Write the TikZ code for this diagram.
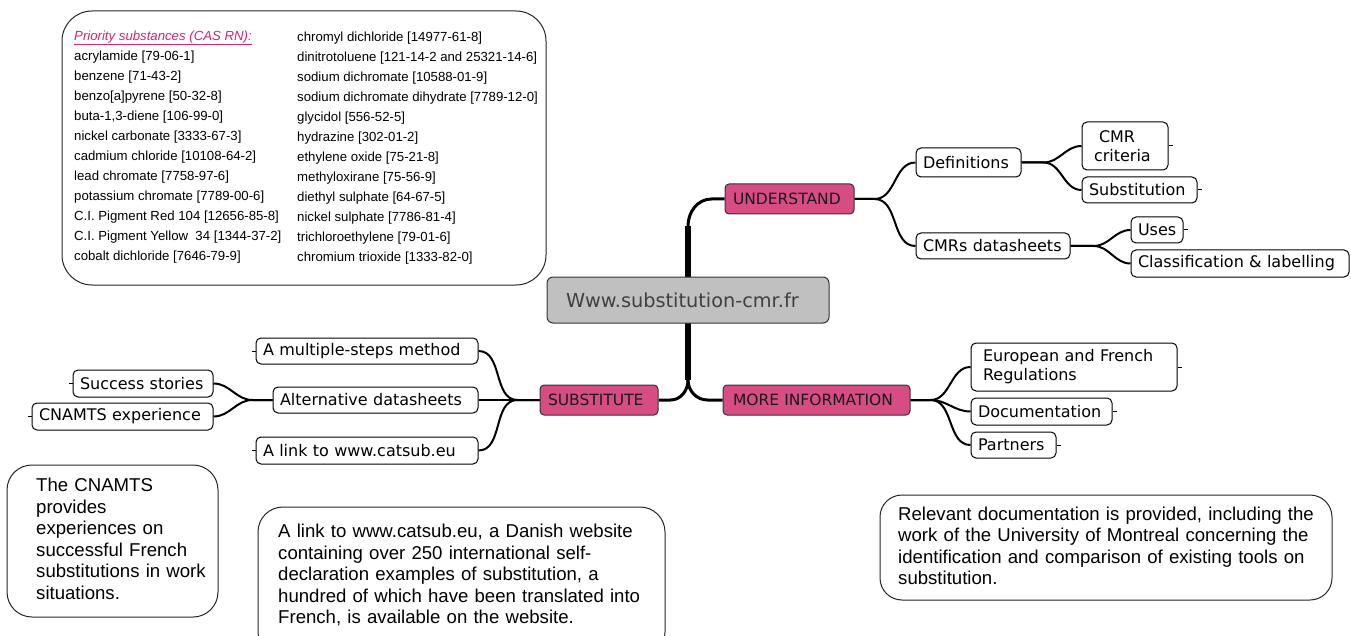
\documentclass[tikz,border=0pt]{standalone}
\usepackage{fontspec}
\setmainfont{Liberation Sans}
\newfontfamily\mmfont{DejaVu Sans}
\usetikzlibrary{backgrounds}
\definecolor{pinkbox}{RGB}{214,76,131}
\definecolor{graybox}{RGB}{192,192,192}
\definecolor{centertext}{RGB}{64,64,64}
\definecolor{titlemag}{RGB}{214,36,120}
\begin{document}
\begin{tikzpicture}[x=1pt,y=-1pt,
  leaf/.style={draw=black, line width=1pt, rounded corners=5pt, fill=white,
    font=\mmfont\fontsize{16}{19}\selectfont, inner xsep=7pt, inner ysep=0pt, align=left},
  mainbr/.style={draw=black!80, line width=1pt, rounded corners=4pt, fill=pinkbox,
    font=\mmfont\fontsize{15.5}{18}\selectfont, text=black!90, inner xsep=8pt, inner ysep=0pt, align=left},
  centerbox/.style={draw=black!80, line width=1pt, rounded corners=6pt, fill=graybox,
    font=\mmfont\fontsize{19.3}{22}\selectfont, text=centertext, inner xsep=19pt, inner ysep=0pt, align=left},
  callout/.style={draw=black!85, line width=1pt, rounded corners=25pt, fill=white},
  calltext/.style={font=\fontsize{18.6}{21.5}\selectfont, align=left, inner sep=0pt, anchor=west},
  listtext/.style={font=\fontsize{13.2}{20}\selectfont, align=left, inner sep=0pt, anchor=west},
  conn/.style={draw=black, line width=2pt},
  tick/.style={draw=black, line width=1pt}]
\useasboundingbox (0,0) rectangle (1351,636);

% priority substances box
\node[callout, rounded corners=30pt, minimum width=484pt, minimum height=274pt] (prio) at (304,148) {};
\node[listtext] (col1) at (74,147) {\textcolor{titlemag}{\underline{\textit{Priority substances (CAS RN):}}}\\
acrylamide [79-06-1]\\
benzene [71-43-2]\\
benzo[a]pyrene [50-32-8]\\
buta-1,3-diene [106-99-0]\\
nickel carbonate [3333-67-3]\\
cadmium chloride [10108-64-2]\\
lead chromate [7758-97-6]\\
potassium chromate [7789-00-6]\\
C.I. Pigment Red 104 [12656-85-8]\\
C.I. Pigment Yellow\ \ 34 [1344-37-2]\\
cobalt dichloride [7646-79-9]};
\node[listtext] (col2) at (297,148) {chromyl dichloride [14977-61-8]\\
dinitrotoluene [121-14-2 and 25321-14-6]\\
sodium dichromate [10588-01-9]\\
sodium dichromate dihydrate [7789-12-0]\\
glycidol [556-52-5]\\
hydrazine [302-01-2]\\
ethylene oxide [75-21-8]\\
methyloxirane [75-56-9]\\
diethyl sulphate [64-67-5]\\
nickel sulphate [7786-81-4]\\
trichloroethylene [79-01-6]\\
chromium trioxide [1333-82-0]};

% center and main branches
\node[centerbox, text width=244pt, minimum height=46pt] (ctr) at (688,300) {Www.substitution-cmr.fr};
\node[mainbr, text width=113pt, minimum height=30pt] (und) at (789.5,199) {UNDERSTAND};
\node[mainbr, text width=102pt, minimum height=30pt] (sub) at (599,400) {SUBSTITUTE};
\node[mainbr, inner xsep=10pt, text width=167pt, minimum height=30pt] (more) at (816.5,400) {MORE INFORMATION};

% UNDERSTAND branch
\node[leaf, text width=91pt, minimum height=29pt] (def) at (968.5,162.5) {Definitions};
\node[leaf, inner xsep=12pt, text width=62pt, minimum height=48pt] (crit) at (1125,146) {\hspace*{5pt}CMR\\criteria};
\node[leaf, text width=101pt, minimum height=26pt] (subst) at (1139.5,190) {Substitution};
\node[leaf, text width=140pt, minimum height=26pt] (cmrs) at (993,246) {CMRs datasheets};
\node[leaf, text width=38pt, minimum height=26pt] (uses) at (1157,230) {Uses};
\node[leaf, text width=204pt, minimum height=27pt] (clas) at (1240,263.5) {Classification \& labelling};

% MORE INFORMATION branch
\node[leaf, inner xsep=12pt, text width=182pt, minimum height=48pt] (euro) at (1074,367) {European and French\\Regulations};
\node[leaf, text width=127pt, minimum height=27pt] (docu) at (1041.5,411.5) {Documentation};
\node[leaf, text width=71pt, minimum height=26pt] (part) at (1013.5,445) {Partners};

% SUBSTITUTE branch
\node[leaf, text width=208pt, minimum height=26pt] (msm) at (367,351) {A multiple-steps method};
\node[leaf, text width=191pt, minimum height=26pt] (alt) at (375.5,400) {Alternative datasheets};
\node[leaf, text width=208pt, minimum height=27pt] (link) at (367,450.5) {A link to www.catsub.eu};
\node[leaf, text width=126pt, minimum height=27pt] (succ) at (143,383.5) {Success stories};
\node[leaf, text width=167pt, minimum height=27pt] (cnex) at (122.5,416.5) {CNAMTS experience};

% callouts
\node[callout, minimum width=211pt, minimum height=152pt] (cnbox) at (112.5,541) {};
\node[calltext, text width=180pt] (cntext) at (36,539) {The CNAMTS\\provides\\experiences on\\successful French\\substitutions in work\\situations.};
\node[callout, minimum width=407pt, minimum height=150pt] (catbox) at (461.5,582) {};
\node[calltext, text width=380pt] (cattext) at (278,575) {A link to www.catsub.eu, a Danish website\\containing over 250 international self-\\declaration examples of substitution, a\\hundred of which have been translated into\\French, is available on the website.};
\node[callout, rounded corners=22pt, minimum width=452pt, minimum height=105pt] (relbox) at (1106,547.5) {};
\node[calltext, text width=430pt] (reltext) at (898,546) {Relevant documentation is provided, including the\\work of the University of Montreal concerning the\\identification and comparison of existing tools on\\substitution.};

% connectors
\begin{scope}[on background layer]
\fill[white] (0,0) rectangle (1351,636);
\coordinate (ttop) at (688,226);
\coordinate (tbot) at (688,380);
\draw[line width=6pt] (ttop) -- (tbot);
\draw[line width=3pt] (und.west) -- ++(-13,0) to[out=180,in=90] (ttop);
\draw[line width=3pt] (more.west) -- ++(-15,0) to[out=180,in=-90] (tbot);
\draw[line width=3pt] (sub.east) -- ++(12,0) to[out=0,in=-90] (tbot);

\draw[conn] (und.east) -- ++(20,0) to[out=0,in=180] (def.west);
\draw[conn] (und.east) -- ++(20,0) to[out=0,in=180] (cmrs.west);
\draw[conn] (def.east) -- ++(22,0) to[out=0,in=180] (crit.west);
\draw[conn] (def.east) -- ++(22,0) to[out=0,in=180] (subst.west);
\draw[conn] (cmrs.east) -- ++(23,0) to[out=0,in=180] (uses.west);
\draw[conn] (cmrs.east) -- ++(23,0) to[out=0,in=180] (clas.west);

\draw[conn] (more.east) -- ++(20,0) to[out=0,in=180] (euro.west);
\draw[conn] (more.east) -- ++(20,0) to[out=0,in=180] (docu.west);
\draw[conn] (more.east) -- ++(20,0) to[out=0,in=180] (part.west);

\draw[conn] (sub.west) -- ++(-22,0) to[out=180,in=0] (msm.east);
\draw[conn] (sub.west) -- ++(-22,0) -- (alt.east);
\draw[conn] (sub.west) -- ++(-22,0) to[out=180,in=0] (link.east);
\draw[conn] (alt.west) -- ++(-20,0) to[out=180,in=0] (succ.east);
\draw[conn] (alt.west) -- ++(-20,0) to[out=180,in=0] (cnex.east);
\end{scope}

% collapse ticks
\draw[tick] (crit.east) -- ++(4,0);
\draw[tick] (subst.east) -- ++(4,0);
\draw[tick] (uses.east) -- ++(4,0);
\draw[tick] (euro.east) -- ++(4,0);
\draw[tick] (docu.east) -- ++(4,0);
\draw[tick] (part.east) -- ++(4,0);
\draw[tick] (msm.west) -- ++(-4,0);
\draw[tick] (link.west) -- ++(-4,0);
\draw[tick] (succ.west) -- ++(-4,0);
\draw[tick] (cnex.west) -- ++(-4,0);
\end{tikzpicture}
\end{document}
